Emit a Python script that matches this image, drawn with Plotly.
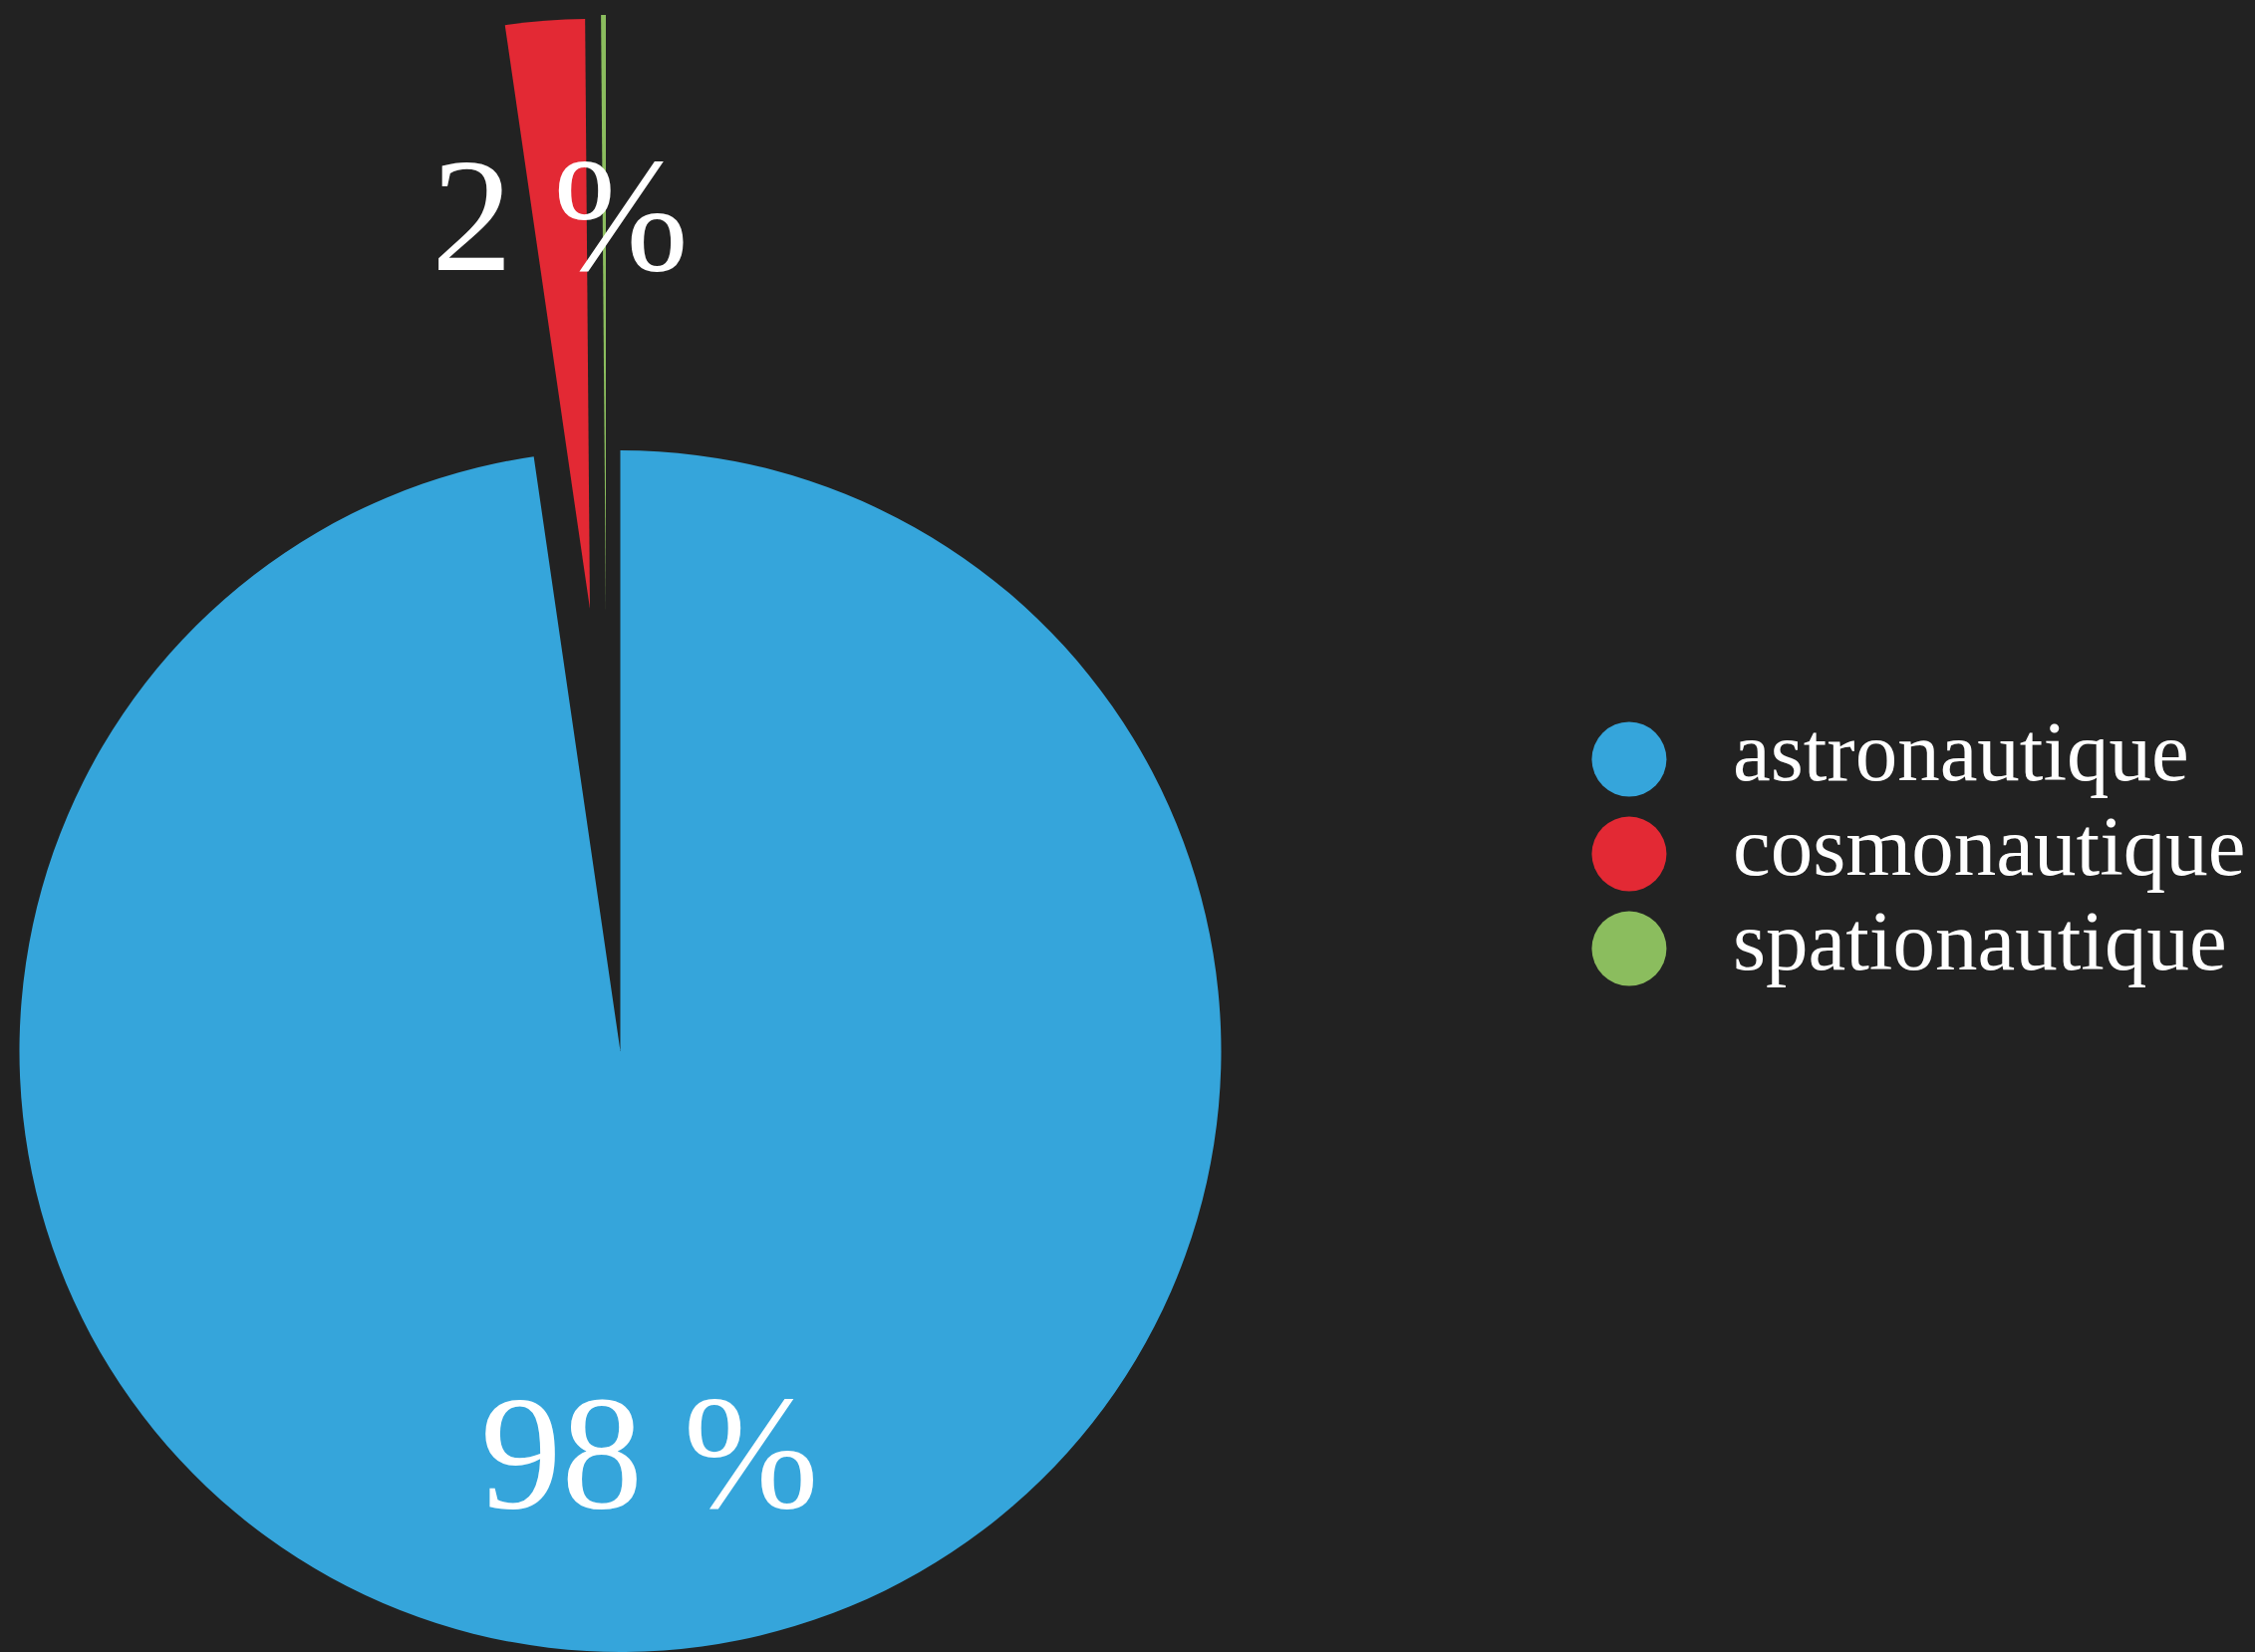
import math
import plotly.graph_objects as go

# Share of each term
labels = ["astronautique", "cosmonautique", "spationautique"]
values = [97.7, 2.17, 0.13]
colors = ["#35a5db", "#e32934", "#8bbd5e"]

W, H = 2263, 1658
BG = "#222222"
FONT = "Liberation Serif"

# Each slice sits in its own pie layer so the exploded wedges can be offset
# independently: (centre x, centre y, radius) in pixels
layers = [
    (622.5, 1055.0, 603.0),
    (592.0, 611.0, 592.0),
    (608.0, 615.0, 600.0),
]

total = sum(values)
percents = [v / total * 100 for v in values]

fig = go.Figure()

for i, (cx, cy, r) in enumerate(layers):
    slice_colors = [c if j == i else "rgba(0,0,0,0)" for j, c in enumerate(colors)]
    fig.add_trace(go.Pie(
        labels=labels,
        values=values,
        sort=False,
        direction="clockwise",
        rotation=0,
        marker=dict(colors=slice_colors, line=dict(width=0)),
        textinfo="none",
        hoverinfo="skip",
        showlegend=False,
        domain=dict(
            x=[(cx - r) / W, (cx + r) / W],
            y=[1 - (cy + r) / H, 1 - (cy - r) / H],
        ),
    ))

# Percentage labels placed along each slice's bisector
annotations = []
cum = 0.0
for i, v in enumerate(values):
    mid = (cum + v / 2) / total
    cum += v
    pct = round(percents[i])
    if pct < 1:
        continue
    cx, cy, r = layers[i]
    theta = 2 * math.pi * mid
    px = cx + 0.67 * r * math.sin(theta)
    py = cy - 0.67 * r * math.cos(theta)
    annotations.append(dict(
        x=px / W, y=1 - py / H, xref="paper", yref="paper",
        text=f"{pct} %", showarrow=False,
        xanchor="center", yanchor="middle",
        font=dict(family=FONT, size=163, color="white"),
    ))

# Legend drawn as round swatches with labels beside them
rows = list(range(len(labels)))
fig.add_trace(go.Scatter(
    x=[0] * len(labels), y=rows, mode="markers",
    marker=dict(size=75, color=colors, line=dict(width=0)),
    hoverinfo="skip", showlegend=False, cliponaxis=False,
))
fig.add_trace(go.Scatter(
    x=[1] * len(labels), y=rows, mode="text", text=labels,
    textposition="middle right",
    textfont=dict(family=FONT, size=85, color="white"),
    hoverinfo="skip", showlegend=False, cliponaxis=False,
))

fig.update_layout(
    width=W, height=H,
    margin=dict(l=0, r=0, t=0, b=0),
    paper_bgcolor=BG, plot_bgcolor=BG,
    showlegend=False,
    annotations=annotations,
    xaxis=dict(visible=False, range=[-1, 4], domain=[0.6765, 0.9063], fixedrange=True),
    yaxis=dict(visible=False, range=[3, -1], domain=[0.3685, 0.5977], fixedrange=True),
)

fig.write_html("out.html")
